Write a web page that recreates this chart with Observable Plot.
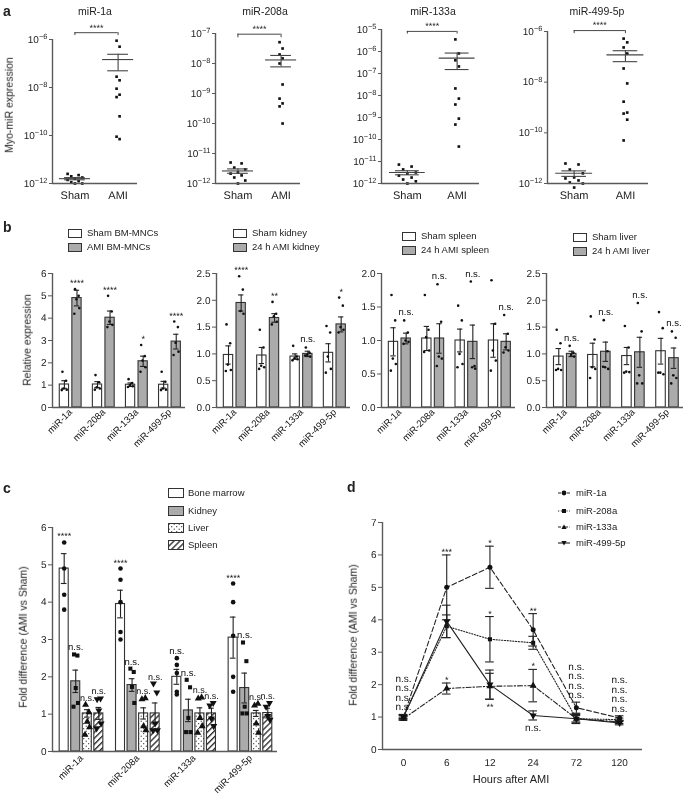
<!DOCTYPE html>
<html>
<head>
<meta charset="utf-8">
<script src="https://cdn.jsdelivr.net/npm/d3@7"></script>
<script src="https://cdn.jsdelivr.net/npm/@observablehq/plot@0.6"></script>
<style>
html,body{margin:0;padding:0;background:#fff;}
#fig{position:relative;width:685px;height:806px;overflow:hidden;font-family:'Liberation Sans',Arial,Helvetica,sans-serif;color:#222;background:#fff;}
#fig .t{position:absolute;white-space:nowrap;line-height:1;}
#fig svg.sw{position:absolute;overflow:visible;}
#fig svg text{text-rendering:geometricPrecision;}
</style>
</head>
<body>
<svg width="0" height="0" style="position:absolute">
  <defs>
    <pattern id="pDots" width="5" height="5" patternUnits="userSpaceOnUse">
      <rect width="5" height="5" fill="white"/>
      <circle cx="1.2" cy="1.2" r="0.6" fill="#222"/>
      <circle cx="3.7" cy="3.7" r="0.6" fill="#222"/>
    </pattern>
    <pattern id="pHatch" width="4.2" height="4.2" patternUnits="userSpaceOnUse" patternTransform="rotate(45)">
      <rect width="4.2" height="4.2" fill="white"/>
      <line x1="0.7" y1="0" x2="0.7" y2="4.2" stroke="#222" stroke-width="1.3"/>
    </pattern>
  </defs>
</svg>
<div id="fig"></div>
<script>
// ===================== DATA =====================
// ---- Panel a: Myo-miR expression (log10 of each dot)
const aTitles = ["miR-1a", "miR-208a", "miR-133a", "miR-499-5p"];
const aGroups = ["Sham", "AMI"];
const a1ShamLog = [-11.6, -11.65, -11.7, -11.75, -11.8, -11.85, -11.9, -11.95, -12.0, -12.0];
const a1AmiLog  = [-6.05, -6.3, -7.55, -7.7, -8.05, -8.3, -8.4, -9.2, -10.05, -10.15];
const a2ShamLog = [-11.3, -11.33, -11.47, -11.53, -11.63, -11.67, -11.73, -11.8, -11.9, -12.0];
const a2AmiLog  = [-7.29, -7.5, -7.7, -7.83, -8.0, -8.7, -9.17, -9.33, -9.43, -10.0];
const a3ShamLog = [-11.14, -11.23, -11.36, -11.5, -11.55, -11.64, -11.73, -11.82, -11.9, -12.0];
const a3AmiLog  = [-5.45, -6.09, -6.4, -6.68, -7.68, -8.14, -8.41, -9.05, -9.32, -10.32];
const a4ShamLog = [-11.21, -11.25, -11.45, -11.6, -11.76, -11.8, -11.88, -11.96, -12.0, -12.16];
const a4AmiLog  = [-6.28, -6.43, -6.63, -6.87, -7.46, -8.05, -8.77, -9.2, -9.24, -9.48, -10.3];
const aTopDecade = [-6, -7, -5, -6];
const aTickStep = [2, 1, 1, 2];
const aSig = ["****", "****", "****", "****"];

// ---- Panel b: relative expression
const bGenes = ["miR-1a", "miR-208a", "miR-133a", "miR-499-5p"];
const bShamLabels = ["Sham BM-MNCs", "Sham kidney", "Sham spleen", "Sham liver"];
const bAmiLabels = ["AMI BM-MNCs", "24 h AMI kidney", "24 h AMI spleen", "24 h AMI liver"];
// BM-MNCs
const bBmShamMean = [1.03, 1.03, 1.02, 1.02];
const bBmShamSem  = [0.17, 0.13, 0.08, 0.15];
const bBmAmiMean  = [4.9, 4.02, 2.07, 2.95];
const bBmAmiSem   = [0.35, 0.3, 0.23, 0.33];
const bBmShamPts = [[1.6, 1.2, 0.85, 0.8, 0.78], [1.45, 1.13, 0.9, 0.85, 0.8], [1.27, 1.1, 1.0, 0.95, 0.92], [1.6, 1.15, 0.85, 0.8, 0.78]];
const bBmAmiPts  = [[5.3, 5.0, 4.85, 4.45, 4.2], [5.0, 4.3, 3.85, 3.7, 3.6], [2.8, 2.3, 2.1, 1.8, 1.6], [3.85, 3.6, 2.9, 2.5, 2.35]];
const bBmSig = ["****", "****", "*", "****"];
// kidney
const bKdShamMean = [0.98, 0.97, 0.95, 1.02];
const bKdShamSem  = [0.17, 0.15, 0.05, 0.17];
const bKdAmiMean  = [1.95, 1.67, 1.0, 1.55];
const bKdAmiSem   = [0.15, 0.08, 0.05, 0.14];
const bKdShamPts = [[1.55, 1.2, 0.8, 0.7, 0.68], [1.45, 1.12, 0.78, 0.75, 0.72], [1.15, 0.95, 0.92, 0.9, 0.88], [1.52, 1.4, 0.95, 0.72, 0.65]];
const bKdAmiPts  = [[2.45, 2.2, 1.8, 1.75], [1.97, 1.75, 1.7, 1.6, 1.55], [1.12, 1.02, 0.98, 0.95, 0.97], [2.05, 1.9, 1.5, 1.45, 1.4]];
const bKdSig = ["****", "**", "n.s.", "*"];
// spleen
const bSpShamMean = [0.98, 1.03, 1.0, 1.0];
const bSpShamSem  = [0.21, 0.18, 0.17, 0.25];
const bSpAmiMean  = [1.03, 1.03, 0.98, 0.98];
const bSpAmiSem   = [0.08, 0.22, 0.25, 0.12];
const bSpShamPts = [[1.68, 1.3, 0.73, 0.65, 0.55], [1.68, 1.16, 1.05, 0.85, 0.83], [1.52, 1.3, 0.8, 0.65, 0.6], [1.9, 1.25, 0.85, 0.7, 0.55]];
const bSpAmiPts  = [[1.3, 1.12, 1.0, 0.98, 0.95], [1.84, 1.28, 0.76, 0.73, 0.62], [1.88, 0.62, 0.6, 0.58], [1.38, 1.1, 0.9, 0.85, 0.82]];
const bSpSig = ["n.s.", "n.s.", "n.s.", "n.s."];
// liver
const bLvShamMean = [0.95, 0.98, 0.96, 1.05];
const bLvShamSem  = [0.15, 0.22, 0.16, 0.24];
const bLvAmiMean  = [1.0, 1.04, 1.03, 0.92];
const bLvAmiSem   = [0.05, 0.18, 0.28, 0.19];
const bLvShamPts = [[1.45, 1.2, 0.72, 0.7, 0.7], [1.7, 1.27, 0.75, 0.72, 0.55], [1.52, 1.12, 0.67, 0.66, 0.65], [1.78, 1.48, 0.65, 0.62, 0.65]];
const bLvAmiPts  = [[1.15, 1.02, 0.98, 0.95], [1.63, 1.05, 0.75, 0.72, 0.76], [1.95, 1.42, 0.6, 0.45, 0.45], [1.42, 1.3, 0.6, 0.55, 0.45]];
const bLvSig = ["n.s.", "n.s.", "n.s.", "n.s."];

// ---- Panel c: fold difference per tissue
const cTissues = ["Bone marrow", "Kidney", "Liver", "Spleen"];
const cBoneMean   = [4.9, 3.95, 2.0, 3.05];
const cBoneSem    = [0.4, 0.37, 0.2, 0.55];
const cKidneyMean = [1.88, 1.78, 1.1, 1.7];
const cKidneySem  = [0.3, 0.17, 0.3, 0.4];
const cLiverMean  = [1.02, 1.02, 1.02, 1.02];
const cLiverSem   = [0.1, 0.15, 0.15, 0.08];
const cSpleenMean = [1.02, 1.02, 1.02, 1.03];
const cSpleenSem  = [0.16, 0.28, 0.14, 0.13];
const cBonePts   = [[5.6, 4.9, 4.2, 3.8], [4.9, 4.6, 4.0, 3.2, 3.0], [2.5, 2.32, 2.1, 1.6, 1.53], [4.5, 4.0, 3.1, 2.0, 1.6]];
const cKidneyPts = [[2.6, 2.57, 1.7, 1.3, 1.2], [2.22, 2.13, 1.73, 1.3], [1.92, 1.72, 0.9, 0.52, 0.52], [2.92, 2.42, 1.2, 1.02, 1.02]];
const cLiverPts  = [[1.25, 1.05, 0.8, 0.65, 0.45], [1.4, 1.43, 0.68, 0.57], [1.42, 1.45, 0.9, 0.68, 0.5], [1.23, 1.28, 0.75, 0.5]];
const cSpleenPts = [[1.4, 1.42, 1.1, 0.75, 0.62], [1.82, 1.58, 0.75, 0.57, 0.57], [1.23, 1.3, 0.88, 0.68], [1.2, 1.3, 0.95, 0.85]];
const cBoneSig   = ["****", "****", "n.s.", "****"];
const cKidneySig = ["n.s.", "n.s.", "n.s.", "n.s."];
const cLiverSig  = ["n.s.", "n.s.", "n.s.", "n.s."];
const cSpleenSig = ["n.s.", "n.s.", "n.s.", "n.s."];

// ---- Panel d: time course
const dHours = ["0", "6", "12", "24", "72", "120"];
const dSeries = ["miR-1a", "miR-208a", "miR-133a", "miR-499-5p"];
const d1aMean   = [1.0, 5.0, 5.62, 3.69, 1.29, 0.97];
const d1aSem    = [0.05, 1.0, 0.65, 0.5, 0.17, 0.07];
const d208aMean = [1.02, 3.8, 3.4, 3.29, 0.95, 0.92];
const d208aSem  = [0.06, 0.35, 0.7, 0.2, 0.1, 0.05];
const d133aMean = [0.95, 1.88, 1.95, 1.97, 0.95, 0.85];
const d133aSem  = [0.05, 0.17, 0.4, 0.5, 0.13, 0.05];
const d499Mean  = [1.0, 3.95, 2.0, 1.05, 0.95, 0.82];
const d499Sem   = [0.08, 0.5, 0.45, 0.14, 0.15, 0.06];
const NS4 = "n.s.\nn.s.\nn.s.\nn.s.";
const dNoteHour   = [0, 6, 6, 12, 12, 12, 24, 24, 24, 72, 120];
const dNoteSeries = [3, 0, 2, 0, 1, 3, 0, 2, 3, 0, 0];
const dNoteSide   = [1, 1, 1, 1, 1, -1, 1, 1, -1, 1, 1];
const dNoteText   = [NS4, "***", "*", "*", "*", "**", "**", "*", "n.s.", NS4, NS4];

// ===================== DRAWING =====================
const fig = document.getElementById("fig");
const W = 685, H = 806;
const FONT = "'Liberation Sans', Arial, Helvetica, sans-serif";
const AXC = "#5a5a5a", INK = "#222", GRAY = "#ababab", EDGE = "#333";
const SVGNS = "http://www.w3.org/2000/svg";

function layer({l, r, t, b, x, y, marks}) {
  const svg = Plot.plot({
    width: W, height: H,
    marginLeft: l, marginRight: W - r, marginTop: t, marginBottom: H - b,
    x, y,
    style: {fontFamily: FONT, fontSize: "10px", color: INK, background: "transparent", overflow: "visible"},
    marks
  });
  Object.assign(svg.style, {position: "absolute", left: "0px", top: "0px", background: "transparent", overflow: "visible", maxWidth: "none", willChange: "transform"});
  fig.appendChild(svg);
  return svg;
}

function html(text, x, y, {size = 10, anchor = "middle", rotate = 0, weight = "normal"} = {}) {
  const d = document.createElement("div");
  d.className = "t";
  d.textContent = text;
  d.style.left = x + "px";
  d.style.top = y + "px";
  d.style.fontSize = size + "px";
  d.style.fontWeight = weight;
  const tx = anchor === "start" ? "0%" : anchor === "end" ? "-100%" : "-50%";
  d.style.transform = `translate(${tx}, -50%)` + (rotate ? ` rotate(${rotate}deg)` : "");
  fig.appendChild(d);
  return d;
}

function swatch(x, y, w, h, inner) {
  const s = document.createElementNS(SVGNS, "svg");
  s.setAttribute("class", "sw");
  s.setAttribute("width", w);
  s.setAttribute("height", h);
  s.style.left = x + "px";
  s.style.top = y + "px";
  s.innerHTML = inner;
  fig.appendChild(s);
}

function superscripts(svg) {
  svg.querySelectorAll("text").forEach(t => {
    const m = /^10\^(-?\d+)$/.exec(t.textContent);
    if (!m) return;
    t.textContent = "10";
    const s = document.createElementNS(SVGNS, "tspan");
    s.setAttribute("dy", "-0.5em");
    s.setAttribute("font-size", "7.5px");
    s.textContent = m[1].replace("-", "\u2212");
    t.appendChild(s);
  });
}

function errorMarks(data, cx, half, stroke = INK) {
  return [
    Plot.ruleX(data, {x: cx, y1: d => d.m - d.s, y2: d => d.m + d.s, stroke, strokeWidth: 1.1}),
    Plot.ruleY(data, {y: d => d.m + d.s, x1: d => cx(d) - half, x2: d => cx(d) + half, stroke, strokeWidth: 1.1}),
    Plot.ruleY(data, {y: d => d.m - d.s, x1: d => cx(d) - half, x2: d => cx(d) + half, stroke, strokeWidth: 1.1})
  ];
}

// ---------- Panel a ----------
const aSets = [[a1ShamLog, a1AmiLog], [a2ShamLog, a2AmiLog], [a3ShamLog, a3AmiLog], [a4ShamLog, a4AmiLog]];
const aFrames = [{l: 52, r: 137, t: 39}, {l: 215, r: 300, t: 33}, {l: 381, r: 479, t: 29}, {l: 547, r: 648, t: 31}];
aTitles.forEach((title, k) => {
  const [shamLog, amiLog] = aSets[k];
  const F = aFrames[k];
  const xd = [-0.52, 1.45];
  const pts = [];
  shamLog.forEach((v, i) => pts.push({x: 0 + (((i * 3) % 5) - 2) * 0.085, v: Math.pow(10, v)}));
  amiLog.forEach((v, i) => pts.push({x: 1 + ((i % 2) * 2 - 1) * 0.035, v: Math.pow(10, v)}));
  const stats = [shamLog, amiLog].map((arr, g) => {
    const lin = arr.map(v => Math.pow(10, v));
    const m = d3.mean(lin), s = d3.deviation(lin) / Math.sqrt(lin.length);
    return {g, m, hi: m + s, lo: Math.max(m - s, m / 50)};
  });
  const yb = Math.pow(10, d3.max(amiLog));
  const ticks = d3.range(-12, aTopDecade[k] + 0.5, aTickStep[k]).map(e => Math.pow(10, e));
  const svg = layer({
    l: F.l, r: F.r, t: F.t, b: 183,
    x: {domain: xd},
    y: {type: "log", domain: [1e-12, Math.pow(10, aTopDecade[k])]},
    marks: [
      Plot.dot(pts, {x: "x", y: "v", symbol: "square", r: 1.5, fill: "#111", stroke: null}),
      Plot.ruleY(stats, {y: "m", x1: d => d.g - 0.36, x2: d => d.g + 0.36, stroke: "#444", strokeWidth: 1.1}),
      Plot.ruleY(stats, {y: "hi", x1: d => d.g - 0.24, x2: d => d.g + 0.24, stroke: "#444", strokeWidth: 1.1}),
      Plot.ruleY(stats, {y: "lo", x1: d => d.g - 0.24, x2: d => d.g + 0.24, stroke: "#444", strokeWidth: 1.1}),
      Plot.ruleX(stats, {x: "g", y1: "lo", y2: "hi", stroke: "#444", strokeWidth: 1.1}),
      Plot.ruleY([yb], {x1: 0, x2: 1, dy: -8, stroke: "#333", strokeWidth: 0.9}),
      Plot.ruleX([0, 1], {y1: yb, y2: yb / Math.pow(10, 0.12), dy: -8, stroke: "#333", strokeWidth: 0.9}),
      Plot.text([aSig[k]], {x: 0.5, y: yb, text: d => d, dy: -13, fontSize: 9}),
      Plot.ruleX([xd[0]], {stroke: AXC, strokeWidth: 1.4}),
      Plot.ruleY([1e-12], {stroke: AXC, strokeWidth: 1.4}),
      Plot.axisY(ticks, {tickSize: 3, tickPadding: 2, tickFormat: d => "10^" + Math.round(Math.log10(d)), stroke: AXC, label: null, fontSize: 10}),
      Plot.axisX([0, 1], {tickFormat: i => aGroups[i], tickSize: 0, tickPadding: 8, label: null, fontSize: 11})
    ]
  });
  superscripts(svg);
});
html("a", 3, 11, {size: 14, anchor: "start", weight: "bold"});
[95, 265, 433, 597].forEach((x, k) => html(aTitles[k], x, 11, {size: 10.5}));
html("Myo-miR expression", 9, 105, {size: 10.5, rotate: -90});

// ---------- Panel b ----------
const bPanels = [
  {l: 52, r: 185, top: 6, step: 1, fmt: d3.format("d"), sm: bBmShamMean, ss: bBmShamSem, am: bBmAmiMean, as: bBmAmiSem, sp: bBmShamPts, ap: bBmAmiPts, sig: bBmSig},
  {l: 216, r: 350, top: 2.5, step: 0.5, fmt: d3.format(".1f"), sm: bKdShamMean, ss: bKdShamSem, am: bKdAmiMean, as: bKdAmiSem, sp: bKdShamPts, ap: bKdAmiPts, sig: bKdSig},
  {l: 381, r: 515, top: 2.0, step: 0.5, fmt: d3.format(".1f"), sm: bSpShamMean, ss: bSpShamSem, am: bSpAmiMean, as: bSpAmiSem, sp: bSpShamPts, ap: bSpAmiPts, sig: bSpSig},
  {l: 546, r: 683, top: 2.5, step: 0.5, fmt: d3.format(".1f"), sm: bLvShamMean, ss: bLvShamSem, am: bLvAmiMean, as: bLvAmiSem, sp: bLvShamPts, ap: bLvAmiPts, sig: bLvSig}
];
const jitB = [-0.06, 0.05, -0.02, 0.07, -0.08, 0.01];
bPanels.forEach(P => {
  const xd = [-0.55, 3.47];
  const sham = bGenes.map((g, i) => ({c: i - 0.19, m: P.sm[i], s: P.ss[i]}));
  const ami = bGenes.map((g, i) => ({c: i + 0.19, m: P.am[i], s: P.as[i]}));
  const pts = [];
  bGenes.forEach((g, i) => {
    P.sp[i].forEach((v, j) => pts.push({x: i - 0.19 + jitB[j % jitB.length], v}));
    P.ap[i].forEach((v, j) => pts.push({x: i + 0.19 + jitB[j % jitB.length], v}));
  });
  const notes = bGenes.map((g, i) => ({x: i + 0.19, v: Math.max(d3.max(P.ap[i]), P.am[i] + P.as[i]), text: P.sig[i]}));
  const ticks = d3.range(0, P.top + P.step / 2, P.step);
  layer({
    l: P.l, r: P.r, t: 273, b: 407,
    x: {domain: xd},
    y: {domain: [0, P.top]},
    marks: [
      Plot.rect(sham, {x1: d => d.c - 0.14, x2: d => d.c + 0.14, y1: 0, y2: "m", fill: "white", stroke: EDGE, strokeWidth: 1.1}),
      Plot.rect(ami, {x1: d => d.c - 0.14, x2: d => d.c + 0.14, y1: 0, y2: "m", fill: GRAY, stroke: EDGE, strokeWidth: 1.1}),
      ...errorMarks(sham, d => d.c, 0.08),
      ...errorMarks(ami, d => d.c, 0.08),
      Plot.dot(pts, {x: "x", y: "v", r: 1.3, fill: "#111", stroke: null}),
      Plot.text(notes.filter(d => d.text !== "n.s."), {x: "x", y: "v", text: "text", dy: -3, lineAnchor: "bottom", fontSize: 9, fill: "#111"}),
      Plot.text(notes.filter(d => d.text === "n.s."), {x: "x", y: "v", text: "text", dy: -5, lineAnchor: "bottom", fontSize: 9.5, fill: "#111"}),
      Plot.ruleX([xd[0]], {stroke: AXC, strokeWidth: 1.4}),
      Plot.ruleY([0], {stroke: AXC, strokeWidth: 1.4}),
      Plot.axisY(ticks, {tickSize: 4, tickPadding: 2, tickFormat: P.fmt, stroke: AXC, label: null, fontSize: 10}),
      Plot.axisX([0, 1, 2, 3], {tickFormat: i => bGenes[i], tickRotate: -45, tickSize: 0, tickPadding: 3, label: null, fontSize: 9.5, fill: "#111"})
    ]
  });
});
html("b", 3, 227, {size: 14, anchor: "start", weight: "bold"});
const bLegendAt = [[68, 233], [233, 233], [402, 236], [573, 237]];
bLegendAt.forEach(([x, y], k) => {
  swatch(x, y - 4.5, 14, 9, `<rect x="0.5" y="0.5" width="13" height="8" fill="white" stroke="${EDGE}"/>`);
  swatch(x, y + 14 - 4.5, 14, 9, `<rect x="0.5" y="0.5" width="13" height="8" fill="${GRAY}" stroke="${EDGE}"/>`);
  html(bShamLabels[k], x + 19, y, {size: 9.5, anchor: "start"});
  html(bAmiLabels[k], x + 19, y + 14, {size: 9.5, anchor: "start"});
});
html("Relative expression", 27, 340, {size: 10.5, rotate: -90});

// ---------- Panel c ----------
const cMeans = [cBoneMean, cKidneyMean, cLiverMean, cSpleenMean];
const cSems = [cBoneSem, cKidneySem, cLiverSem, cSpleenSem];
const cPts = [cBonePts, cKidneyPts, cLiverPts, cSpleenPts];
const cSigs = [cBoneSig, cKidneySig, cLiverSig, cSpleenSig];
const cFills = ["white", GRAY, "url(#pDots)", "url(#pHatch)"];
const cSymbols = ["circle", "square", "triangle", "triangle"];
const cRotate = [0, 0, 0, 180];
const cR = [2.3, 2.3, 2.6, 2.6];
const jitC = [-0.03, 0.03, 0.0, 0.04, -0.04];
{
  const xd = [-0.515, 3.48];
  const off = k => -0.3075 + k * 0.205;
  const marks = [];
  const notes = [];
  cTissues.forEach((tis, k) => {
    const bars = bGenes.map((g, i) => ({c: i + off(k), m: cMeans[k][i], s: cSems[k][i]}));
    marks.push(Plot.rect(bars, {x1: d => d.c - 0.08, x2: d => d.c + 0.08, y1: 0, y2: "m", fill: cFills[k], stroke: EDGE, strokeWidth: 1.1}));
    bGenes.forEach((g, i) => notes.push({x: i + off(k), v: Math.max(d3.max(cPts[k][i]), cMeans[k][i] + cSems[k][i]), text: cSigs[k][i], k}));
  });
  cTissues.forEach((tis, k) => {
    const bars = bGenes.map((g, i) => ({c: i + off(k), m: cMeans[k][i], s: cSems[k][i]}));
    marks.push(...errorMarks(bars, d => d.c, 0.05));
    const pts = [];
    bGenes.forEach((g, i) => cPts[k][i].forEach((v, j) => pts.push({x: i + off(k) + (k === 0 ? 0 : jitC[j % jitC.length]), v})));
    marks.push(Plot.dot(pts, {x: "x", y: "v", r: cR[k], symbol: cSymbols[k], rotate: cRotate[k], fill: "#111", stroke: null}));
  });
  marks.push(
    Plot.text(notes.filter(d => d.text !== "n.s."), {x: "x", y: "v", text: "text", dy: -3, lineAnchor: "bottom", fontSize: 9, fill: "#111"}),
    Plot.text(notes.filter(d => d.text === "n.s." && d.k < 2), {x: "x", y: "v", text: "text", dy: -4, lineAnchor: "bottom", fontSize: 9.5, fill: "#111"}),
    Plot.text(notes.filter(d => d.text === "n.s." && d.k >= 2), {x: "x", y: "v", text: "text", dy: -4, lineAnchor: "bottom", fontSize: 9, fill: "#111"}),
    Plot.ruleX([xd[0]], {stroke: AXC, strokeWidth: 1.4}),
    Plot.ruleY([0], {stroke: AXC, strokeWidth: 1.4}),
    Plot.axisY(d3.range(0, 7), {tickSize: 4, tickPadding: 2, stroke: AXC, label: null, fontSize: 10}),
    Plot.axisX([0, 1, 2, 3], {tickFormat: i => bGenes[i], tickRotate: -45, tickSize: 0, tickPadding: 5, label: null, fontSize: 9.5, fill: "#111"})
  );
  layer({l: 52, r: 277, t: 527, b: 751, x: {domain: xd}, y: {domain: [0, 6]}, marks});
}
html("c", 3, 488, {size: 14, anchor: "start", weight: "bold"});
[493, 510.5, 528, 545].forEach((y, k) => {
  swatch(168, y - 5, 16, 10, `<rect x="0.5" y="0.5" width="15" height="9" fill="${cFills[k]}" stroke="${EDGE}"/>`);
  html(cTissues[k], 188, y, {size: 9.5, anchor: "start"});
});
html("Fold difference (AMI vs Sham)", 23, 637, {size: 10.5, rotate: -90});

// ---------- Panel d ----------
const dMeans = [d1aMean, d208aMean, d133aMean, d499Mean];
const dSems = [d1aSem, d208aSem, d133aSem, d499Sem];
const dDash = ["5,2.5", "1.2,1.6", "5,2,1.3,2", "none"];
const dSymbols = ["circle", "square", "triangle", "triangle"];
const dRotate = [0, 0, 0, 180];
const dR = [2.5, 2.3, 2.6, 2.6];
{
  const xd = [-0.486, 5.53];
  const marks = [];
  dSeries.forEach((s, k) => {
    const rows = dHours.map((h, i) => ({i, m: dMeans[k][i], s: dSems[k][i]}));
    marks.push(Plot.line(rows, {x: "i", y: "m", stroke: INK, strokeWidth: 1.1, strokeDasharray: dDash[k]}));
  });
  dSeries.forEach((s, k) => {
    const rows = dHours.map((h, i) => ({i, m: dMeans[k][i], s: dSems[k][i]}));
    marks.push(...errorMarks(rows, d => d.i, 0.1));
    marks.push(Plot.dot(rows, {x: "i", y: "m", r: dR[k], symbol: dSymbols[k], rotate: dRotate[k], fill: "#111", stroke: null}));
  });
  const notes = dNoteText.map((text, n) => {
    const k = dNoteSeries[n], i = dHours.indexOf(String(dNoteHour[n]));
    return {x: i, v: dMeans[k][i] + dNoteSide[n] * dSems[k][i], text, side: dNoteSide[n], ns: text.startsWith("n.s.")};
  });
  marks.push(
    Plot.text(notes.filter(d => d.side > 0 && !d.ns), {x: "x", y: "v", text: "text", dy: 0, lineAnchor: "bottom", fontSize: 9, fill: "#111"}),
    Plot.text(notes.filter(d => d.side > 0 && d.ns), {x: "x", y: "v", text: "text", dy: -4, lineAnchor: "bottom", lineHeight: 0.95, fontSize: 10, fill: "#111"}),
    Plot.text(notes.filter(d => d.side < 0 && !d.ns), {x: "x", y: "v", text: "text", dy: 4, lineAnchor: "top", fontSize: 9, fill: "#111"}),
    Plot.text(notes.filter(d => d.side < 0 && d.ns), {x: "x", y: "v", text: "text", dy: 4, lineAnchor: "top", fontSize: 10, fill: "#111"}),
    Plot.ruleX([xd[0]], {stroke: AXC, strokeWidth: 1.4}),
    Plot.ruleY([0], {stroke: AXC, strokeWidth: 1.4}),
    Plot.axisY(d3.range(0, 8), {tickSize: 4, tickPadding: 2, stroke: AXC, label: null, fontSize: 10}),
    Plot.axisX(d3.range(0, 6), {tickFormat: i => dHours[i], tickSize: 0, tickPadding: 9, label: null, fontSize: 10})
  );
  layer({l: 382, r: 642, t: 522, b: 749, x: {domain: xd}, y: {domain: [0, 7]}, marks});
}
html("d", 347, 487, {size: 14, anchor: "start", weight: "bold"});
const dMarkerPath = [
  `<circle cx="6" cy="5" r="2.4" fill="#111"/>`,
  `<rect x="4" y="3" width="4" height="4" fill="#111"/>`,
  `<path d="M6,2.6 L8.6,7 L3.4,7 Z" fill="#111"/>`,
  `<path d="M6,7.4 L8.6,3 L3.4,3 Z" fill="#111"/>`
];
const dLegendDash = ["3,1.5", "1.2,1.6", "3,1.5,1,1.5", null];
[493, 510.5, 527, 543].forEach((y, k) => {
  const dash = dLegendDash[k] ? `stroke-dasharray="${dLegendDash[k]}"` : "";
  swatch(558, y - 5, 12, 10, `<line x1="0" y1="5" x2="12" y2="5" stroke="${INK}" stroke-width="1.1" ${dash}/>` + dMarkerPath[k]);
  html(dSeries[k], 576, y, {size: 9.5, anchor: "start"});
});
html("Fold difference (AMI vs Sham)", 353, 635, {size: 10.5, rotate: -90});
html("Hours after AMI", 511, 779, {size: 11});
</script>
</body>
</html>
